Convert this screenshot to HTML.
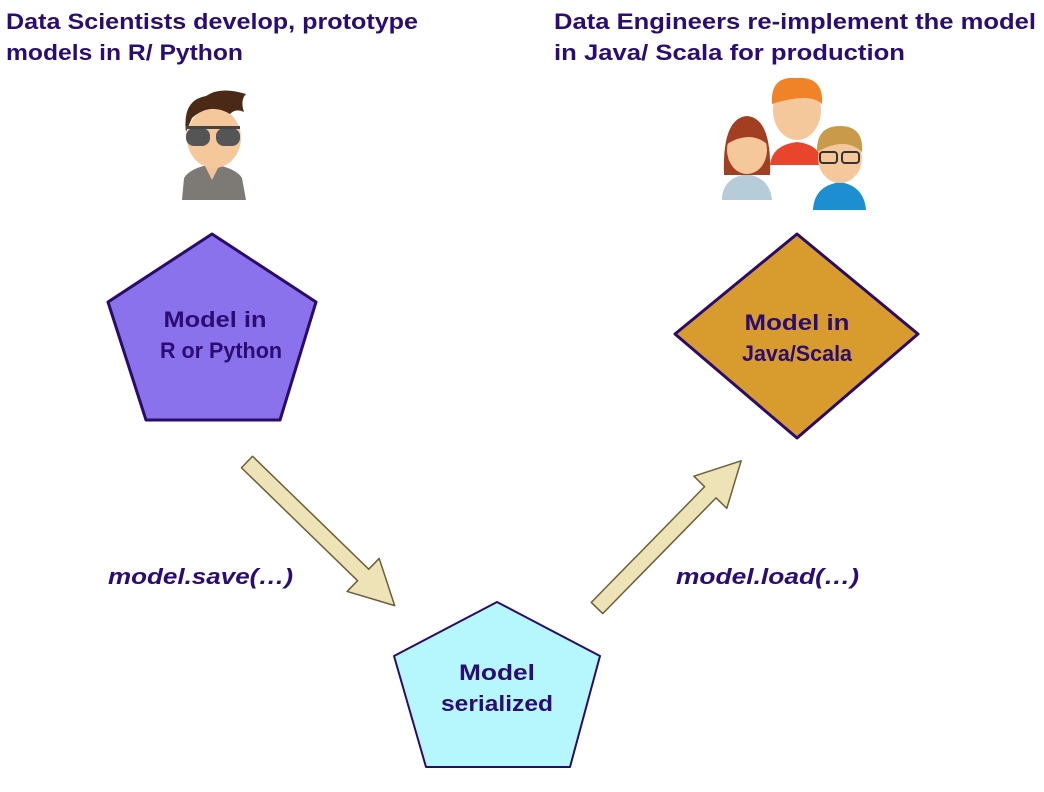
<!DOCTYPE html>
<html><head><meta charset="utf-8"><style>
html,body{margin:0;padding:0;background:#fff;}
svg{display:block;font-family:"Liberation Sans",sans-serif;}
</style></head><body>
<svg width="1044" height="792" viewBox="0 0 1044 792">
<g fill="#2b0c73" font-weight="bold" font-size="22">
<text x="6" y="29" textLength="412" lengthAdjust="spacingAndGlyphs">Data Scientists develop, prototype</text>
<text x="6" y="60" textLength="237" lengthAdjust="spacingAndGlyphs">models in R/ Python</text>
<text x="554" y="29" textLength="482" lengthAdjust="spacingAndGlyphs">Data Engineers re-implement the model</text>
<text x="554" y="60" textLength="351" lengthAdjust="spacingAndGlyphs">in Java/ Scala for production</text>
</g>
<!-- single person -->
<g>
<path d="M182 200 L184 178 Q190 168 212 164 Q236 168 242 178 L246 200 Z" fill="#7d7a76"/>
<path d="M205 166 L212 180 L219 166 Z" fill="#f2c49b"/>
<ellipse cx="214" cy="138" rx="27" ry="30" fill="#f5c89c"/>
<path d="M186 132 Q182 100 206 96 Q220 86 246 94 Q240 100 244 112 Q236 108 230 114 Q210 102 192 118 Z" fill="#4a2a17"/>
<rect x="186" y="128" width="24" height="18" rx="8" fill="#555"/>
<rect x="216" y="128" width="24" height="18" rx="8" fill="#555"/>
<rect x="186" y="126" width="54" height="3" fill="#444"/>
</g>
<!-- group -->
<g>
<path d="M770 165 Q772 145 797 142 Q822 145 822 165 Z" fill="#e8452c"/>
<ellipse cx="797" cy="110" rx="24" ry="30" fill="#f5c89c"/>
<path d="M772 104 Q770 76 796 78 Q824 76 822 104 Q810 92 772 104 Z" fill="#f08228"/>
<path d="M722 200 Q722 178 747 174 Q770 178 772 200 Z" fill="#b6cdd9"/>
<path d="M724 175 Q722 118 747 116 Q772 118 770 175 Z" fill="#a23e22"/>
<ellipse cx="747" cy="150" rx="20" ry="24" fill="#f5c89c"/>
<path d="M727 144 Q730 122 747 122 Q764 122 767 144 Q750 130 727 144 Z" fill="#a23e22"/>
<path d="M813 210 Q814 186 840 182 Q864 186 866 210 Z" fill="#1d8fd0"/>
<ellipse cx="840" cy="158" rx="22" ry="25" fill="#f5c89c"/>
<path d="M817 152 Q816 126 840 126 Q864 126 862 152 Q845 136 817 152 Z" fill="#c99a4a"/>
<rect x="820" y="152" width="17" height="11" rx="3" fill="none" stroke="#333" stroke-width="2"/>
<rect x="842" y="152" width="17" height="11" rx="3" fill="none" stroke="#333" stroke-width="2"/>
</g>
<!-- shapes -->
<polygon points="212,234 316,302 280,420 146,420 108,302" fill="#8a72ec" stroke="#2a0b6b" stroke-width="3" stroke-linejoin="round"/>
<polygon points="797,234 918,334 797,438 675,334" fill="#d89c2e" stroke="#2a0b6b" stroke-width="3" stroke-linejoin="round"/>
<polygon points="497,602 600,656 570,767 426,767 394,656" fill="#b5f7fd" stroke="#2a0b6b" stroke-width="2" stroke-linejoin="round"/>
<g fill="#2b0c73" font-weight="bold" font-size="22" text-anchor="middle">
<text x="215" y="327" textLength="103" lengthAdjust="spacingAndGlyphs">Model in</text>
<text x="221" y="358" textLength="122" lengthAdjust="spacingAndGlyphs">R or Python</text>
<text x="797" y="330" textLength="105" lengthAdjust="spacingAndGlyphs">Model in</text>
<text x="797" y="361" textLength="110" lengthAdjust="spacingAndGlyphs">Java/Scala</text>
<text x="497" y="680" textLength="76" lengthAdjust="spacingAndGlyphs">Model</text>
<text x="497" y="711" textLength="112" lengthAdjust="spacingAndGlyphs">serialized</text>
</g>
<!-- arrows -->
<polygon transform="translate(247,462) rotate(44.2)" points="0,-8 162,-8 162,-23 206,0 162,23 162,8 0,8" fill="#eee3b6" stroke="#6b5f3a" stroke-width="1.5" stroke-linejoin="round"/>
<polygon transform="translate(597,608) rotate(-45.6)" points="0,-8 162,-8 162,-23 206,0 162,23 162,8 0,8" fill="#eee3b6" stroke="#6b5f3a" stroke-width="1.5" stroke-linejoin="round"/>
<g fill="#2b0c73" font-weight="bold" font-style="italic" font-size="22">
<text x="108" y="584" textLength="185" lengthAdjust="spacingAndGlyphs">model.save(…)</text>
<text x="676" y="584" textLength="183" lengthAdjust="spacingAndGlyphs">model.load(…)</text>
</g>
</svg>
</body></html>
